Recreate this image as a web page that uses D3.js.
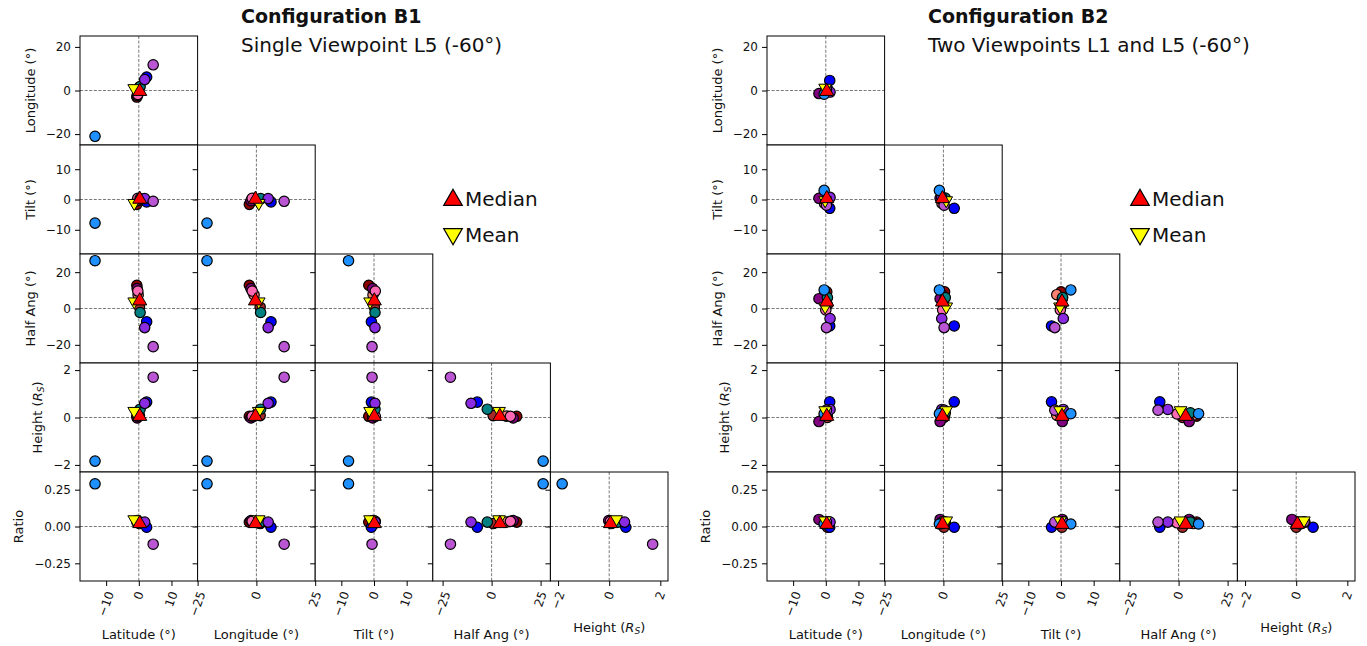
<!DOCTYPE html>
<html>
<head>
<meta charset="utf-8">
<script src="https://cdn.jsdelivr.net/npm/d3@7"></script>
<style>
  body { margin: 0; background: #fff; }
  text { font-family: "DejaVu Sans", sans-serif; fill: #111; }
</style>
</head>
<body>
<svg id="chart" width="1367" height="646"></svg>
<script>
// ensemble members, in drawing order
const memberColors = ["#8b0000", "#a52a2a", "#fa8072", "#800080", "#ff69b4",
  "#008080", "#0000ff", "#8a2be2", "#ba55d3", "#1e90ff"];

// each row: latitude, longitude, tilt, half angle, height, ratio
const b1Values = [
  [-0.6, -3.0, -1.6, 12.8, 0.05, 0.03],
  [0.2, 1.6, 0.1, 0.8, 0.08, 0.02],
  [-0.2, -1.0, -0.3, 7.5, 0.06, 0.03],
  [-0.5, -2.3, -0.4, 11.0, -0.02, 0.04],
  [-0.3, -1.8, 0.4, 9.6, 0.05, 0.035],
  [0.4, 1.8, 0.3, -2.2, 0.35, 0.03],
  [2.4, 6.2, -0.8, -7.3, 0.65, -0.005],
  [1.8, 5.0, 0.3, -10.5, 0.6, 0.03],
  [4.4, 11.8, -0.6, -21.0, 1.7, -0.12],
  [-13.4, -21.0, -7.8, 26.3, -1.84, 0.29]
];
const b1Median = [0.3, -0.4, 0.1, 4.2, 0.05, 0.02];
const b1Mean = [-1.4, 1.0, -1.2, 3.8, 0.27, 0.048];

const b2Values = [
  [0.3, 0.5, 0.0, 9.2, 0.06, 0.03],
  [0.5, 0.2, 0.3, 2.0, 0.0, -0.005],
  [-0.4, -0.6, -1.3, 7.6, 0.1, 0.02],
  [-2.1, -1.4, 0.4, 5.4, -0.17, 0.048],
  [0.0, -0.3, -0.2, -0.8, 0.15, 0.025],
  [0.5, 0.8, 0.5, 6.0, 0.2, 0.03],
  [1.2, 4.6, -2.9, -9.6, 0.66, -0.005],
  [1.3, -0.7, 0.7, -5.5, 0.34, 0.03],
  [0.2, 0.3, -1.9, -10.5, 0.31, 0.03],
  [-0.5, -1.7, 3.0, 10.2, 0.16, 0.017]
];
const b2Median = [0.3, -0.4, 0.3, 3.6, 0.05, 0.015];
const b2Mean = [-0.2, 1.2, -0.3, 1.0, 0.3, 0.04];

// axis half ranges and ticks for each parameter
const axisLimits = [18, 25, 18, 30, 2.3, 0.37];
const yTickValues = [[], [-20, 0, 20], [-10, 0, 10], [-20, 0, 20], [-2, 0, 2], [-0.25, 0, 0.25]];
const xTickValues = [[-10, 0, 10], [-25, 0, 25], [-10, 0, 10], [-25, 0, 25], [-2, 0, 2]];
const axisNames = ["Latitude (°)", "Longitude (°)", "Tilt (°)", "Half Ang (°)", "Height", "Ratio"];

const titles = ["Configuration B1", "Configuration B2"];
const subtitles = ["Single Viewpoint L5 (-60°)", "Two Viewpoints L1 and L5 (-60°)"];

const svg = d3.select("#chart");
const pw = 117.6, ph = 109, topY = 36;
const tickFs = 12, labelFs = 13;
const rot = 70 * Math.PI / 180;

const configs = [
  { x0: 80, values: b1Values, median: b1Median, mean: b1Mean },
  { x0: 767, values: b2Values, median: b2Median, mean: b2Mean }
];

function fmtFor(i) {
  return i == 5 ? d3.format(".2f") : d3.format("d");
}

// label text, with R_S for height
function writeLabel(t, i) {
  if (i == 4) {
    t.append("tspan").text("Height (");
    t.append("tspan").attr("font-style", "italic").text("R");
    t.append("tspan").attr("font-style", "italic").attr("font-size", labelFs * 0.7)
      .attr("baseline-shift", "-25%").text("S");
    t.append("tspan").text(")");
  } else {
    t.text(axisNames[i]);
  }
}

let clipId = 0;

configs.forEach(function (cfg, k) {
  const g = svg.append("g");

  g.append("text").attr("x", cfg.x0 + 161).attr("y", 23)
    .attr("font-size", 19).attr("font-weight", "bold").text(titles[k]);
  g.append("text").attr("x", cfg.x0 + 161).attr("y", 52)
    .attr("font-size", 20).text(subtitles[k]);

  for (let r = 0; r < 5; r++) {
    const yi = r + 1;
    for (let c = 0; c <= r; c++) {
      const px = cfg.x0 + c * pw;
      const py = topY + r * ph;
      const xs = d3.scaleLinear().domain([-axisLimits[c], axisLimits[c]]).range([px, px + pw]);
      const ys = d3.scaleLinear().domain([-axisLimits[yi], axisLimits[yi]]).range([py + ph, py]);

      const p = g.append("g");
      p.append("rect").attr("x", px).attr("y", py).attr("width", pw).attr("height", ph)
        .attr("fill", "#fff");

      const id = "clip" + clipId++;
      p.append("clipPath").attr("id", id).append("rect")
        .attr("x", px).attr("y", py).attr("width", pw).attr("height", ph);
      const inner = p.append("g").attr("clip-path", "url(#" + id + ")");

      inner.append("line").attr("x1", px).attr("x2", px + pw)
        .attr("y1", ys(0)).attr("y2", ys(0));
      inner.append("line").attr("x1", xs(0)).attr("x2", xs(0))
        .attr("y1", py).attr("y2", py + ph);
      inner.selectAll("line").attr("stroke", "#555").attr("stroke-width", 0.8)
        .attr("stroke-dasharray", "3,1.6");

      inner.selectAll("circle.m").data(cfg.values).enter().append("circle")
        .attr("cx", function (d) { return xs(d[c]); })
        .attr("cy", function (d) { return ys(d[yi]); })
        .attr("r", 5.2)
        .attr("fill", function (d, i) { return memberColors[i]; })
        .attr("stroke", "#000").attr("stroke-width", 1.2);

      inner.append("path")
        .attr("d", d3.symbol(d3.symbolTriangle, 70)())
        .attr("transform", "translate(" + xs(cfg.mean[c]) + "," + ys(cfg.mean[yi]) + ") rotate(180)")
        .attr("fill", "#ffff00").attr("stroke", "#000").attr("stroke-width", 1);
      inner.append("path")
        .attr("d", d3.symbol(d3.symbolTriangle, 85)())
        .attr("transform", "translate(" + xs(cfg.median[c]) + "," + ys(cfg.median[yi]) + ")")
        .attr("fill", "#ff0000").attr("stroke", "#000").attr("stroke-width", 1);

      p.append("rect").attr("x", px).attr("y", py).attr("width", pw).attr("height", ph)
        .attr("fill", "none").attr("stroke", "#000").attr("stroke-width", 1);

      // y axis ticks, labels only in the first column
      const yAxis = d3.axisLeft(ys).tickValues(yTickValues[yi]).tickSize(5).tickPadding(4)
        .tickFormat(c == 0 ? fmtFor(yi) : "");
      const ya = p.append("g").attr("transform", "translate(" + px + ",0)").call(yAxis);
      ya.select(".domain").remove();
      ya.selectAll("line").attr("stroke", "#000");
      ya.selectAll("text").attr("font-size", tickFs).attr("font-family", "DejaVu Sans").attr("fill", "#111");

      if (c == 0) {
        let minX = px;
        ya.selectAll("text").each(function () {
          const b = this.getBBox();
          minX = Math.min(minX, px + b.x);
        });
        const yl = g.append("text").attr("font-size", labelFs).attr("text-anchor", "middle")
          .attr("transform", "translate(" + (minX - 11) + "," + (py + ph / 2) + ") rotate(-90)");
        writeLabel(yl, yi);
      }

      // x axis only on the bottom row
      if (r == 4) {
        const xAxis = d3.axisBottom(xs).tickValues(xTickValues[c]).tickSize(5).tickFormat("");
        const xa = p.append("g").attr("transform", "translate(0," + (py + ph) + ")").call(xAxis);
        xa.select(".domain").remove();
        xa.selectAll("line").attr("stroke", "#000");

        const labTop = py + ph + 9;
        let maxBottom = labTop;
        xTickValues[c].forEach(function (v) {
          const t = p.append("text").text(fmtFor(c)(v)).attr("font-size", tickFs)
            .attr("text-anchor", "middle").attr("dominant-baseline", "central");
          const w = t.node().getComputedTextLength();
          const hgt = w * Math.sin(rot) + tickFs * Math.cos(rot);
          t.attr("transform", "translate(" + xs(v) + "," + (labTop + hgt / 2) + ") rotate(-70)");
          maxBottom = Math.max(maxBottom, labTop + hgt);
        });
        const xl = g.append("text").attr("font-size", labelFs).attr("text-anchor", "middle")
          .attr("x", px + pw / 2).attr("y", maxBottom + 21);
        writeLabel(xl, c);
      }
    }
  }

  // legend
  const lx = cfg.x0 + 373;
  const leg = g.append("g");
  leg.append("path").attr("d", d3.symbol(d3.symbolTriangle, 150)())
    .attr("transform", "translate(" + lx + ",200)")
    .attr("fill", "#ff0000").attr("stroke", "#000").attr("stroke-width", 1.2);
  leg.append("text").attr("x", lx + 12).attr("y", 206).attr("font-size", 20).text("Median");
  leg.append("path").attr("d", d3.symbol(d3.symbolTriangle, 150)())
    .attr("transform", "translate(" + lx + ",234) rotate(180)")
    .attr("fill", "#ffff00").attr("stroke", "#000").attr("stroke-width", 1.2);
  leg.append("text").attr("x", lx + 12).attr("y", 242).attr("font-size", 20).text("Mean");
});
</script>
</body>
</html>
